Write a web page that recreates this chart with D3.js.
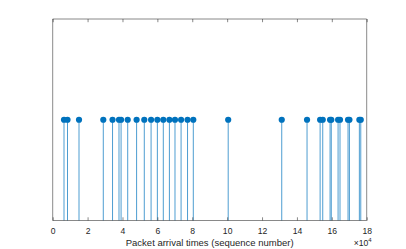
<!DOCTYPE html>
<html>
<head>
<meta charset="utf-8">
<script src="https://cdn.jsdelivr.net/npm/d3@7"></script>
<style>
html,body{margin:0;padding:0;background:#fff;}
svg{display:block;font-family:"Liberation Sans",Arial,Helvetica,sans-serif;}
</style>
</head>
<body>
<svg id="chart" width="406" height="249"></svg>
<script>
// Packet arrival times (x 10^4)
const arrivalTimes = [0.648, 0.849, 1.508, 2.90, 3.43, 3.80, 3.92, 4.30, 4.81, 5.25, 5.64, 6.00, 6.34, 6.69, 7.01, 7.36, 7.73, 8.06, 10.06, 13.13, 14.58, 15.33, 15.48, 15.90, 15.97, 16.36, 16.47, 16.93, 17.01, 17.58, 17.66];
const stemValue = 1;
const xTicks = [0, 2, 4, 6, 8, 10, 12, 14, 16, 18];
const xLabel = "Packet arrival times (sequence number)";

(function () {
const svg = d3.select("#chart");
const L = 52.7, R = 366.7, T = 19, B = 220.5;
const x = d3.scaleLinear().domain([0, 18]).range([L, R]);
const y = d3.scaleLinear().domain([0, 2]).range([B, T]);
const blue = "#0072BD", axisCol = "#262626";

// stems
svg.append("g").selectAll("line").data(arrivalTimes).join("line")
  .attr("x1", d => x(d)).attr("x2", d => x(d))
  .attr("y1", y(0)).attr("y2", y(stemValue))
  .attr("stroke", blue).attr("stroke-width", 0.7);

// markers
svg.append("g").selectAll("circle").data(arrivalTimes).join("circle")
  .attr("cx", d => x(d)).attr("cy", y(stemValue)).attr("r", 3.1)
  .attr("fill", blue);

// box
const box = svg.append("g").attr("fill", "none").attr("stroke", axisCol).attr("stroke-width", 0.55);
box.append("line").attr("x1", L).attr("x2", R).attr("y1", B).attr("y2", B);
box.append("line").attr("x1", L).attr("x2", R).attr("y1", T).attr("y2", T);
box.append("line").attr("x1", L).attr("x2", L).attr("y1", T).attr("y2", B);
box.append("line").attr("x1", R).attr("x2", R).attr("y1", T).attr("y2", B);

// bottom axis (ticks inward)
const bottomAxis = svg.append("g").attr("transform", `translate(0,${B})`)
  .call(d3.axisBottom(x).tickValues(xTicks).tickFormat(d3.format("d")).tickSize(-3.2).tickPadding(7));
bottomAxis.select(".domain").remove();
bottomAxis.selectAll(".tick line").attr("stroke", axisCol).attr("stroke-width", 0.55);
bottomAxis.selectAll(".tick text").attr("fill", axisCol).attr("font-size", "8.6px")
  .attr("font-family", "Liberation Sans, Arial, sans-serif");

// top axis ticks (mirrored, no labels)
const topAxis = svg.append("g").attr("transform", `translate(0,${T})`)
  .call(d3.axisTop(x).tickValues(xTicks).tickFormat("").tickSize(-3.2));
topAxis.select(".domain").remove();
topAxis.selectAll(".tick line").attr("stroke", axisCol).attr("stroke-width", 0.55);

// x label
svg.append("text").attr("x", (L + R) / 2).attr("y", 245.5)
  .attr("text-anchor", "middle").attr("font-size", "9.5px").attr("fill", axisCol)
  .text(xLabel);

// exponent
const ex = svg.append("text").attr("x", R + 5).attr("y", 246).attr("text-anchor", "end")
  .attr("font-size", "8.6px").attr("fill", axisCol);
ex.append("tspan").text("\u00d710");
ex.append("tspan").attr("dy", -4).attr("font-size", "6px").text("4");
})();
</script>
</body>
</html>
